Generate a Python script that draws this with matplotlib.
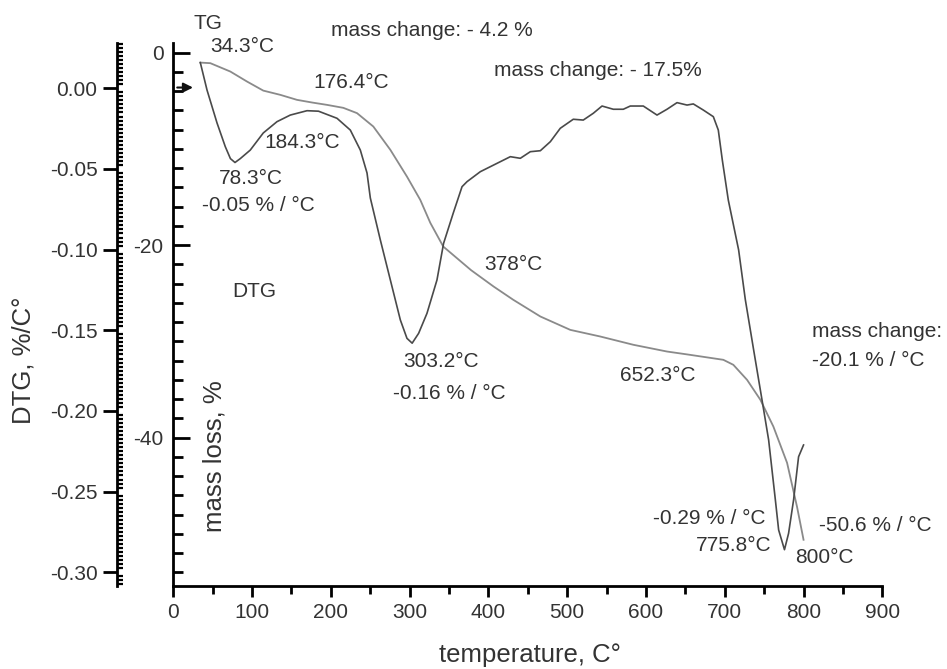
import matplotlib
matplotlib.use("Agg")
import matplotlib.pyplot as plt
from matplotlib.ticker import MultipleLocator, FormatStrFormatter

plt.rcParams['font.family'] = ['Liberation Sans', 'DejaVu Sans']
plt.rcParams['axes.unicode_minus'] = False

# TG curve: temperature (°C) and mass change (%)
tg_temp = [34.3, 47, 72.4, 93.6, 114.2, 135.8, 157, 176.4, 195, 215.8, 233.2,
           253.9, 275.5, 296.6, 313.5, 326.2, 342.7, 378, 406.6, 431.6, 465.9,
           503.9, 542, 584, 626.7, 652.3, 698.2, 710.9, 728.3, 745.2, 761.7,
           779.1, 791.8, 800]
tg_mass = [-1.04, -1.10, -1.97, -3.01, -3.95, -4.39, -4.91, -5.19, -5.43, -5.74,
           -6.29, -7.68, -10.10, -12.88, -15.30, -17.68, -20.15, -22.6, -24.30,
           -25.68, -27.41, -28.80, -29.49, -30.35, -31.05, -31.35, -31.91, -32.43,
           -33.99, -36.06, -38.84, -42.61, -47.2, -50.6]

# DTG curve: temperature (°C) and rate of mass change (%/°C)
dtg_temp = [34.3, 42.8, 55.5, 66.0, 72.5, 78.3, 85.0, 97.7, 114.2, 131.6, 148.5,
            169.7, 184.3, 207.8, 224.7, 237.4, 245.9, 250.1, 262.8, 275.5, 288.2,
            296.6, 303.2, 311.4, 322, 334.7, 343.1, 355.4, 366.5, 372.8, 389.7,
            402.4, 415.1, 427.8, 440.5, 453.2, 465.9, 478.6, 491.2, 507.7, 520.4,
            533.1, 544.2, 558.5, 571.2, 580.1, 596.6, 614, 626.7, 639.4, 652.1,
            660.1, 672.8, 685.5, 691.8, 696.9, 704.5, 717.6, 726.1, 736.6, 747.3,
            755.7, 764.2, 768.4, 775.8, 781.0, 787.4, 793.7, 800]
dtg_rate = [0.0159, -0.0011, -0.0215, -0.0362, -0.0436, -0.046, -0.0436, -0.0383,
            -0.0277, -0.0207, -0.0166, -0.0139, -0.0142, -0.0186, -0.0259, -0.0383,
            -0.0525, -0.068, -0.094, -0.1188, -0.1436, -0.155, -0.158, -0.1519,
            -0.1395, -0.1188, -0.0961, -0.0773, -0.061, -0.0579, -0.0517, -0.0486,
            -0.0455, -0.0424, -0.0434, -0.0393, -0.0387, -0.0331, -0.0248, -0.0192,
            -0.0197, -0.0155, -0.011, -0.013, -0.013, -0.011, -0.011, -0.0166,
            -0.013, -0.0089, -0.0104, -0.0097, -0.0135, -0.0176, -0.0259, -0.0445,
            -0.0693, -0.1002, -0.131, -0.162, -0.1932, -0.218, -0.255, -0.2738,
            -0.286, -0.2759, -0.255, -0.2284, -0.2211]

x_ticks = [0, 100, 200, 300, 400, 500, 600, 700, 800, 900]
mass_ticks = [0, -20, -40]
dtg_ticks = [0.00, -0.05, -0.10, -0.15, -0.20, -0.25, -0.30]

TXT = '#333333'
fig = plt.figure(figsize=(9.47, 6.69), dpi=100)
ax = fig.add_axes([0.1830, 0.1241, 0.7487, 0.8117])
ax.set_xlim(0, 900)
ax.set_ylim(-55.4, 1.0)

ax2 = ax.twinx()
ax2.set_ylim(-0.3085, 0.0281)

for s in ['top', 'right']:
    ax.spines[s].set_visible(False)
for s in ['top', 'right', 'bottom']:
    ax2.spines[s].set_visible(False)
ax2.spines['left'].set_visible(True)
ax2.spines['left'].set_position(('axes', -0.0794))
ax2.yaxis.tick_left()
ax2.yaxis.set_label_position('left')
for a in (ax, ax2):
    for s in a.spines.values():
        s.set_linewidth(2.0)

# curves
ax.plot(tg_temp, tg_mass, color='#8a8a8a', lw=1.3, zorder=3)
ax2.plot(dtg_temp, dtg_rate, color='#4a4a4a', lw=1.2, zorder=3)

# x axis
ax.set_xticks(x_ticks)
ax.xaxis.set_minor_locator(MultipleLocator(50))
ax.tick_params(axis='x', which='major', direction='out', length=8, width=2,
               labelsize=15, labelcolor=TXT, pad=4)
ax.tick_params(axis='x', which='minor', direction='out', length=6, width=2)

# mass axis (inner)
ax.set_yticks(mass_ticks)
ax.yaxis.set_minor_locator(MultipleLocator(2))
ax.tick_params(axis='y', which='major', direction='in', length=12, width=2,
               labelsize=15, labelcolor=TXT, pad=7)
ax.tick_params(axis='y', which='minor', direction='in', length=7, width=2)

# DTG axis (outer)
ax2.set_yticks(dtg_ticks)
ax2.yaxis.set_major_formatter(FormatStrFormatter('%.2f'))
ax2.yaxis.set_minor_locator(MultipleLocator(0.0025))
ax2.tick_params(axis='y', which='major', direction='out', length=10, width=2,
                labelsize=15, labelcolor=TXT, pad=4, left=True, right=False,
                labelleft=True, labelright=False)
ax2.tick_params(axis='y', which='minor', direction='in', length=4.5, width=1.6,
                left=True, right=False)

ax.set_xlabel('temperature, C°', fontsize=18.5, color=TXT)
ax.xaxis.set_label_coords(0.503, -0.105)
ax.set_ylabel('mass loss, %', fontsize=18.5, color=TXT)
ax.yaxis.set_label_coords(0.0757, 0.239)
ax2.set_ylabel('DTG, %/C°', fontsize=18.5, color=TXT)
ax2.yaxis.set_label_coords(-0.195, 0.416)

# marker on the mass axis at the DTG zero level
ax.annotate('', xy=(25, -3.63), xytext=(5, -3.63),
            arrowprops=dict(arrowstyle='-|>', color='#111111', lw=1.5,
                            mutation_scale=14, shrinkA=0, shrinkB=0))

notes = [
    ('TG', 44.0, 2.98, 'center'),
    ('34.3°C', 87.2, 0.59, 'center'),
    ('mass change: - 4.2 %', 328.4, 2.25, 'center'),
    ('176.4°C', 225.5, -3.15, 'center'),
    ('mass change: - 17.5%', 539.1, -1.90, 'center'),
    ('184.3°C', 163.4, -9.38, 'center'),
    ('78.3°C', 98.6, -13.11, 'center'),
    ('-0.05 % / °C', 107.5, -15.92, 'center'),
    ('DTG', 102.4, -24.85, 'center'),
    ('303.2°C', 339.8, -32.12, 'center'),
    ('-0.16 % / °C', 349.9, -35.44, 'center'),
    ('378°C', 431.2, -22.05, 'center'),
    ('652.3°C', 615.2, -33.57, 'center'),
    ('mass change:', 810.6, -29.0, 'left'),
    ('-20.1 % / °C', 810.6, -32.01, 'left'),
    ('-0.29 % / °C', 680.0, -48.4, 'center'),
    ('775.8°C', 711.7, -51.2, 'center'),
    ('-50.6 % / °C', 890.7, -49.1, 'center'),
    ('800°C', 826.0, -52.4, 'center'),
]
for txt, x, y, ha in notes:
    ax.text(x, y, txt, ha=ha, va='center', fontsize=15, color=TXT,
            clip_on=False, zorder=4)

fig.savefig('out.png', dpi=100)
